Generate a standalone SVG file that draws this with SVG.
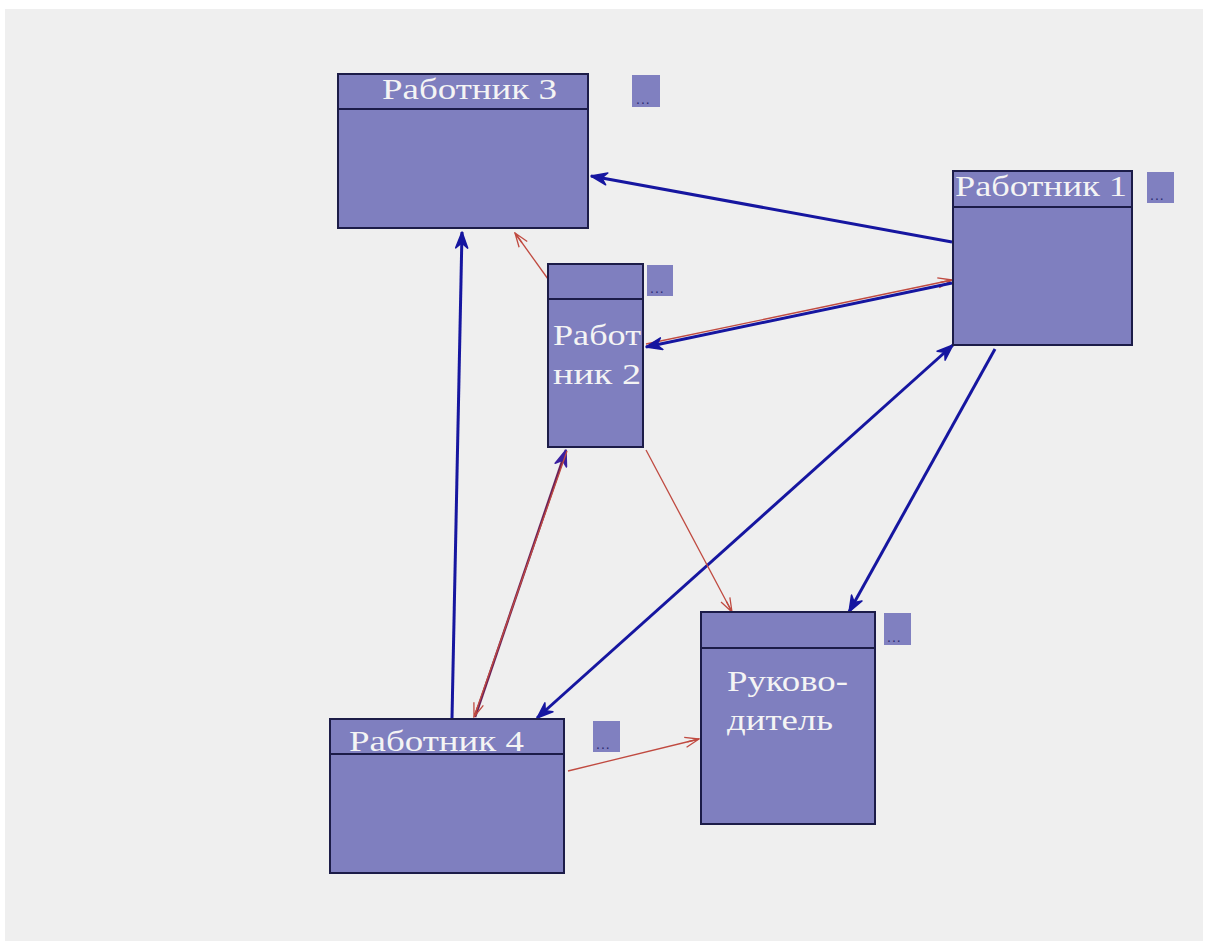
<svg xmlns="http://www.w3.org/2000/svg" width="1211" height="941" viewBox="0 0 1211 941">
<style>
.node{fill:#7f7fbf;stroke:#1c1c48;stroke-width:2}
.div{stroke:#1c1c48;stroke-width:2}
.badge{fill:#8080c0}
.dots{font-family:"Liberation Sans",Arial,sans-serif;font-size:14px;fill:#2a2a70;letter-spacing:1px}
.lbl{font-family:"Liberation Serif","Times New Roman",serif;font-size:30px;fill:#f4f4f4}
.blue{stroke:#1616a0;stroke-width:3;fill:none}
.red{stroke:#c04a40;stroke-width:1.3;fill:none}
</style>
<defs>
<marker id="ab" viewBox="0 0 18 14" refX="17" refY="7" markerWidth="18" markerHeight="14" markerUnits="userSpaceOnUse" orient="auto-start-reverse">
<path d="M1,1 L17,7 L1,13 L6,7 Z" fill="#1616a0" stroke="#1616a0" stroke-width="1.5" stroke-linejoin="round"/>
</marker>
<marker id="ar" viewBox="0 0 16 12" refX="15" refY="6" markerWidth="16" markerHeight="12" markerUnits="userSpaceOnUse" orient="auto-start-reverse">
<path d="M1,1 L15,6 L1,11 M3,6 L15,6" fill="none" stroke="#c04a40" stroke-width="1.3"/>
</marker>
<marker id="ap" viewBox="0 0 18 14" refX="17" refY="7" markerWidth="18" markerHeight="14" markerUnits="userSpaceOnUse" orient="auto-start-reverse">
<path d="M1,1 L17,7 L1,13 L6,7 Z" fill="#3a20a0" stroke="#3a20a0" stroke-width="1.5" stroke-linejoin="round"/>
</marker>
</defs>
<rect x="0" y="0" width="1211" height="941" fill="#ffffff"/>
<rect x="5" y="9" width="1198" height="932" fill="#efefef"/>

<g id="connectors">
<line class="blue" x1="952" y1="242" x2="591" y2="176" marker-end="url(#ab)"/>
<line class="red" x1="646" y1="344" x2="952" y2="280" marker-end="url(#ar)"/>
<line class="blue" x1="952" y1="283" x2="646" y2="347" marker-end="url(#ab)"/>
<line class="red" x1="548" y1="279" x2="515" y2="233" marker-end="url(#ar)"/>
<line class="blue" x1="452" y1="718" x2="462" y2="232" marker-end="url(#ab)"/>
<line x1="475" y1="717" x2="566" y2="450" stroke="#6a2058" stroke-width="2.5" fill="none" marker-end="url(#ap)"/>
<line class="red" x1="567" y1="451" x2="474" y2="717" marker-end="url(#ar)"/>
<line class="blue" x1="537" y1="718" x2="953" y2="345" marker-start="url(#ab)" marker-end="url(#ab)"/>
<line class="blue" x1="995" y1="349" x2="849" y2="612" marker-end="url(#ab)"/>
<line class="red" x1="646" y1="450" x2="732" y2="612" marker-end="url(#ar)"/>
<line class="red" x1="568" y1="771" x2="699" y2="739" marker-end="url(#ar)"/>
</g>

<g id="n3">
<rect class="node" x="338" y="74" width="250" height="154"/>
<line class="div" x1="338" y1="109" x2="588" y2="109"/>
<text class="lbl" x="382" y="99" textLength="175" lengthAdjust="spacingAndGlyphs">Работник 3</text>
<rect class="badge" x="632" y="75" width="28" height="32"/>
<text class="dots" x="636" y="104">...</text>
</g>

<g id="n1">
<rect class="node" x="953" y="171" width="179" height="174"/>
<line class="div" x1="953" y1="207" x2="1132" y2="207"/>
<text class="lbl" x="955" y="196" textLength="172" lengthAdjust="spacingAndGlyphs">Работник 1</text>
<rect class="badge" x="1147" y="172" width="27" height="31"/>
<text class="dots" x="1150" y="200">...</text>
</g>

<g id="n2">
<rect class="node" x="548" y="264" width="95" height="183"/>
<line class="div" x1="548" y1="299" x2="643" y2="299"/>
<text class="lbl" x="553" y="345" textLength="88" lengthAdjust="spacingAndGlyphs">Работ</text>
<text class="lbl" x="553" y="384" textLength="88" lengthAdjust="spacingAndGlyphs">ник 2</text>
<rect class="badge" x="647" y="265" width="26" height="31"/>
<text class="dots" x="650" y="293">...</text>
</g>

<g id="n5">
<rect class="node" x="701" y="612" width="174" height="212"/>
<line class="div" x1="701" y1="648" x2="875" y2="648"/>
<text class="lbl" x="727" y="691" textLength="121" lengthAdjust="spacingAndGlyphs">Руково-</text>
<text class="lbl" x="727" y="730" textLength="106" lengthAdjust="spacingAndGlyphs">дитель</text>
<rect class="badge" x="884" y="613" width="27" height="32"/>
<text class="dots" x="887" y="642">...</text>
</g>

<g id="n4">
<rect class="node" x="330" y="719" width="234" height="154"/>
<line class="div" x1="330" y1="754" x2="564" y2="754"/>
<text class="lbl" x="349" y="751" textLength="175" lengthAdjust="spacingAndGlyphs">Работник 4</text>
<rect class="badge" x="593" y="721" width="27" height="31"/>
<text class="dots" x="596" y="749">...</text>
</g>
</svg>
